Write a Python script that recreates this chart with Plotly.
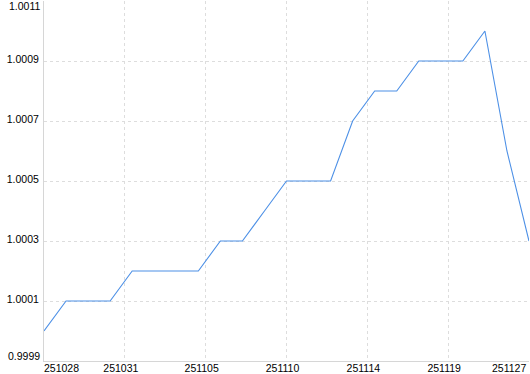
import plotly.graph_objects as go

values = [1.0000, 1.0001, 1.0001, 1.0001, 1.0002, 1.0002, 1.0002, 1.0002,
          1.0003, 1.0003, 1.0004, 1.0005, 1.0005, 1.0005, 1.0007, 1.0008,
          1.0008, 1.0009, 1.0009, 1.0009, 1.0010, 1.0006, 1.0003]
x_labels = ["251028", "251031", "251105", "251110", "251114", "251119", "251127"]
y_ticks = [0.9999, 1.0001, 1.0003, 1.0005, 1.0007, 1.0009, 1.0011]
y_labels = ["0.9999", "1.0001", "1.0003", "1.0005", "1.0007", "1.0009", "1.0011"]

idx = list(range(len(values)))
n = len(values) - 1
x_pos = [k * n / (len(x_labels) - 1) for k in range(len(x_labels))]

FONT = dict(family="Liberation Sans, Arial, sans-serif", size=10.5, color="#000000")
GRID = "#dddddd"
AXIS = "#d6d6d6"

fig = go.Figure()
fig.add_trace(go.Scatter(x=idx, y=values, mode="lines",
                         line=dict(color="#4d90e6", width=1.1),
                         hoverinfo="skip", showlegend=False))

fig.update_layout(
    width=530, height=374,
    margin=dict(l=44, r=1, t=1, b=13, autoexpand=False),
    paper_bgcolor="white", plot_bgcolor="white",
    font=FONT,
    xaxis=dict(range=[0, n], tickmode="array", automargin=False,
               tickvals=x_pos[1:-1], ticktext=x_labels[1:-1],
               showgrid=True, gridcolor=GRID, griddash="3px,3px", gridwidth=1,
               showline=True, linecolor=AXIS, linewidth=1, mirror=False,
               zeroline=False, ticks="", ticklabelshift=-4,
               ticklabelstandoff=-3, tickfont=FONT, fixedrange=True),
    yaxis=dict(range=[y_ticks[0], y_ticks[-1]], tickmode="array", automargin=False,
               tickvals=y_ticks[1:-1], ticktext=y_labels[1:-1],
               showgrid=True, gridcolor=GRID, griddash="3px,3px", gridwidth=1,
               showline=True, linecolor=AXIS, linewidth=1,
               zeroline=False, ticks="", ticklabelshift=-2,
               ticklabelstandoff=2, tickfont=FONT, fixedrange=True),
)

ann = []
# end labels of the y axis, nudged inward
ann.append(dict(x=0, xref="paper", y=y_ticks[0], yref="y", text=y_labels[0],
                showarrow=False, xanchor="right", yanchor="middle",
                xshift=-2, yshift=5, font=FONT))
ann.append(dict(x=0, xref="paper", y=y_ticks[-1], yref="y", text=y_labels[-1],
                showarrow=False, xanchor="right", yanchor="middle",
                xshift=-2, yshift=-5, font=FONT))
# end labels of the x axis, aligned to the plot edges
ann.append(dict(x=x_pos[0], xref="x", y=0, yref="paper", text=x_labels[0],
                showarrow=False, xanchor="left", yanchor="top",
                xshift=-2, yshift=1, font=FONT))
ann.append(dict(x=x_pos[-1], xref="x", y=0, yref="paper", text=x_labels[-1],
                showarrow=False, xanchor="right", yanchor="top",
                xshift=-1, yshift=1, font=FONT))
fig.update_layout(annotations=ann)

fig.write_html("out.html")
